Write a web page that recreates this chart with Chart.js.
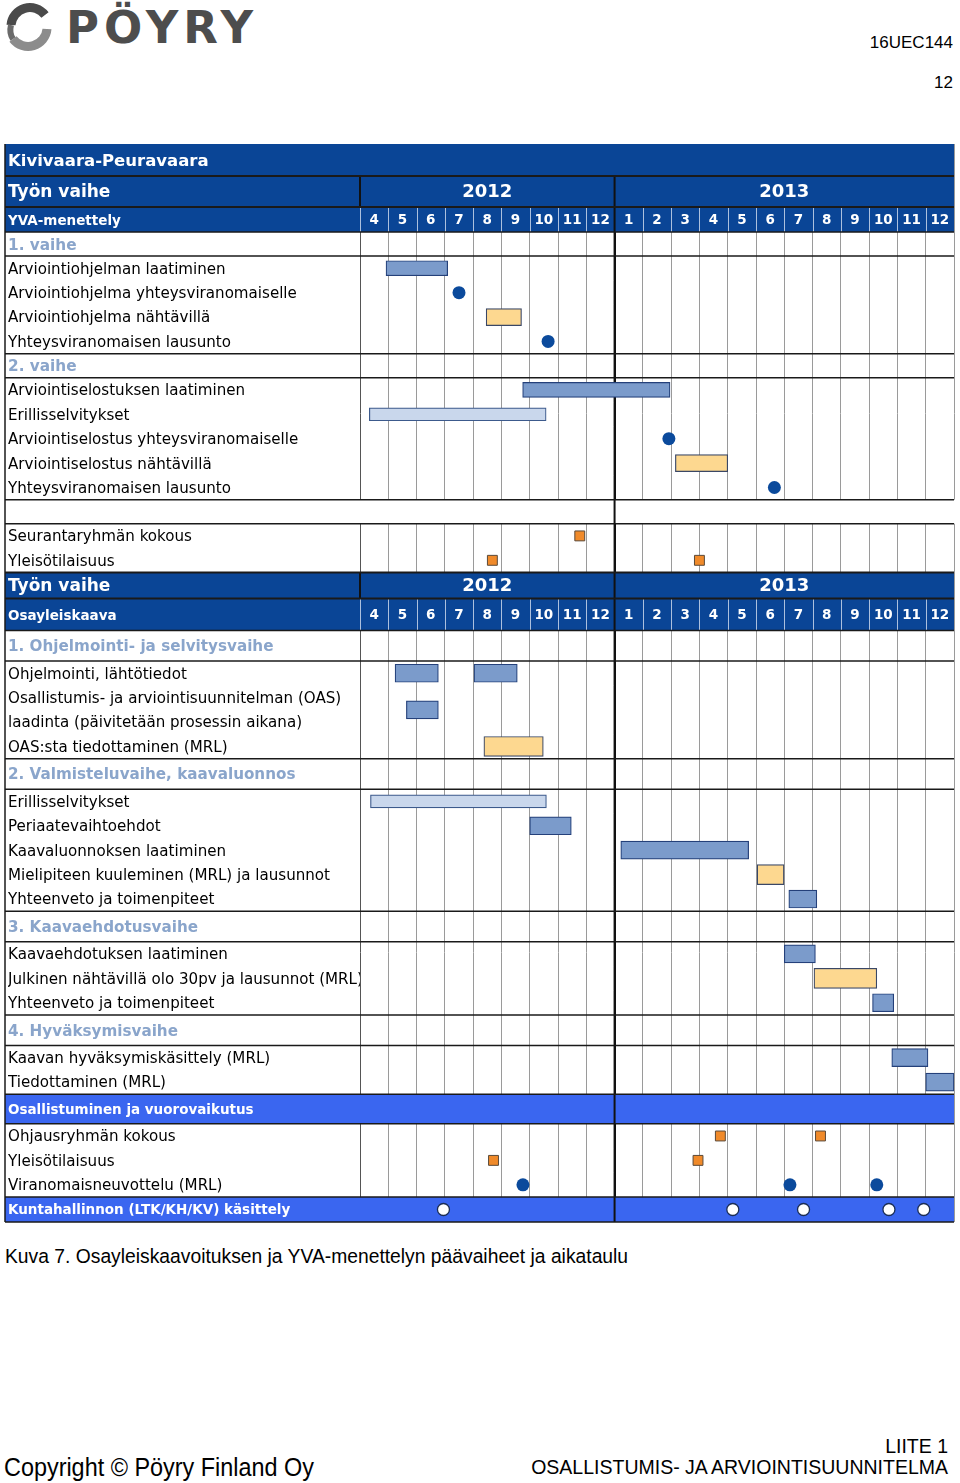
<!DOCTYPE html>
<html><head><meta charset="utf-8">
<script src="https://cdn.jsdelivr.net/npm/chart.js@4.4.1/dist/chart.umd.min.js"></script>
<style>
html,body{margin:0;padding:0;background:#fff}
body{width:960px;height:1483px;position:relative;overflow:hidden;font-family:"Liberation Sans",Arial,sans-serif;color:#000}
.t{position:absolute;white-space:nowrap}
#logoTxt{left:66px;top:2px;font-family:"DejaVu Sans",sans-serif;font-weight:bold;font-size:45px;line-height:52px;color:#4d4d4d;letter-spacing:5px}
#docid{right:7px;top:33px;font-size:17px;line-height:20px}
#pageno{right:7px;top:73px;font-size:17px;line-height:20px}
#caption{left:5px;top:1246px;font-size:19.3px;line-height:22px}
#copy{left:4px;top:1452px;font-size:26px;line-height:30px;transform:scaleX(0.9);transform-origin:left}
#liite{right:12px;top:1436px;font-size:19.5px;line-height:21px;text-align:right}
#wrap{position:absolute;left:0;top:144px;width:960px;height:1080px}
</style></head><body>
<svg class="t" style="left:4px;top:3px" width="50" height="48" viewBox="0 0 50 48">
  <path d="M41 12 A19 19 0 0 0 7 22" fill="none" stroke="#4a4a4a" stroke-width="9"/>
  <path d="M9 36 A19 19 0 0 0 43 26" fill="none" stroke="#8c8c8c" stroke-width="9"/>
  <path d="M7 22 Q5 30 9 36" fill="none" stroke="#6a6a6a" stroke-width="6"/>
</svg>
<div class="t" id="logoTxt">PÖYRY</div>
<div class="t" id="docid">16UEC144</div>
<div class="t" id="pageno">12</div>
<div id="wrap"><canvas id="c" width="960" height="1080"></canvas></div>
<div class="t" id="caption">Kuva 7. Osayleiskaavoituksen ja YVA-menettelyn päävaiheet ja aikataulu</div>
<div class="t" id="copy">Copyright © Pöyry Finland Oy</div>
<div class="t" id="liite">LIITE 1<br>OSALLISTUMIS- JA ARVIOINTISUUNNITELMA</div>
<script>
// ---------------- data ----------------
const monthLabels = ['4','5','6','7','8','9','10','11','12','1','2','3','4','5','6','7','8','9','10','11','12'];
const yearLabels = ['2012', '2013'];
const monthsPerYear = [9, 12];

const rowLabels = [
  'Kivivaara-Peuravaara',
  'Työn vaihe',
  'YVA-menettely',
  '1. vaihe',
  'Arviointiohjelman laatiminen',
  'Arviointiohjelma yhteysviranomaiselle',
  'Arviointiohjelma nähtävillä',
  'Yhteysviranomaisen lausunto',
  '2. vaihe',
  'Arviointiselostuksen laatiminen',
  'Erillisselvitykset',
  'Arviointiselostus yhteysviranomaiselle',
  'Arviointiselostus nähtävillä',
  'Yhteysviranomaisen lausunto',
  '',
  'Seurantaryhmän kokous',
  'Yleisötilaisuus',
  'Työn vaihe',
  'Osayleiskaava',
  '1. Ohjelmointi- ja selvitysvaihe',
  'Ohjelmointi, lähtötiedot',
  ['Osallistumis- ja arviointisuunnitelman (OAS)', 'laadinta (päivitetään prosessin aikana)'],
  'OAS:sta tiedottaminen (MRL)',
  '2. Valmisteluvaihe, kaavaluonnos',
  'Erillisselvitykset',
  'Periaatevaihtoehdot',
  'Kaavaluonnoksen laatiminen',
  'Mielipiteen kuuleminen (MRL) ja lausunnot',
  'Yhteenveto ja toimenpiteet',
  '3. Kaavaehdotusvaihe',
  'Kaavaehdotuksen laatiminen',
  'Julkinen nähtävillä olo 30pv ja lausunnot (MRL)',
  'Yhteenveto ja toimenpiteet',
  '4. Hyväksymisvaihe',
  'Kaavan hyväksymiskäsittely (MRL)',
  'Tiedottaminen (MRL)',
  'Osallistuminen ja vuorovaikutus',
  'Ohjausryhmän kokous',
  'Yleisötilaisuus',
  'Viranomaisneuvottelu (MRL)',
  'Kuntahallinnon (LTK/KH/KV) käsittely'
];
const rowKinds = [
  'title','year','month','phase','task','task','task','task','phase','task','task','task','task','task',
  'blank','task','task','year2','month2','phaseL','task','task2','task','phaseL','task','task','task','task','task',
  'phaseL','task','task','task','phaseL','task','task','band','task','task','task','bandS'
];

// months counted from the start of April 2012
const workRows  = [4, 9, 20, 20, 21, 25, 26, 28, 30, 32, 34, 35];
const workStart = [0.92, 5.75, 1.24, 4.03, 1.64, 6.0, 9.22, 15.16, 15.0, 18.12, 18.8, 20.0];
const workEnd   = [3.1, 10.96, 2.77, 5.56, 2.77, 7.47, 13.74, 16.15, 16.1, 18.87, 20.08, 21.0];

const studyRows  = [10, 24];
const studyStart = [0.33, 0.37];
const studyEnd   = [6.58, 6.59];

const displayRows  = [6, 12, 22, 27, 31];
const displayStart = [4.46, 11.15, 4.38, 14.04, 16.05];
const displayEnd   = [5.71, 13.0, 6.48, 14.99, 18.27];

const authorityRows = [5, 7, 11, 13, 39, 39, 39];
const authorityAt   = [3.5, 6.65, 10.92, 14.65, 5.76, 15.2, 18.27];

const meetingRows = [15, 16, 16, 37, 37, 38, 38];
const meetingAt   = [7.77, 4.68, 12.0, 12.74, 16.28, 4.72, 11.95];

const councilRows = [40, 40, 40, 40, 40];
const councilAt   = [2.95, 13.18, 15.68, 18.7, 19.93];

// ---------------- layout / style ----------------
const rowHeight = {title:32, year:31, month:25, phase:24, task:24.4, task2:48.8, blank:24,
                   year2:26, month2:32, phaseL:30.5, band:29.5, bandS:25};
const DARK = '#0a4596', BRIGHT = '#3a66f0', PHASE = '#8aa5cb';

const bounds = [0];
rowKinds.forEach(k => bounds.push(bounds[bounds.length - 1] + rowHeight[k]));
const total = bounds[bounds.length - 1];
const rowCenters = rowKinds.map((k, i) => (bounds[i] + bounds[i + 1]) / 2);
const yearEdges = [0];
monthsPerYear.forEach(n => yearEdges.push(yearEdges[yearEdges.length - 1] + n));
const nMonths = yearEdges[yearEdges.length - 1];
const innerEdges = yearEdges.slice(1, -1);

const isDarkKind = k => ['title','year','month','year2','month2'].includes(k);
const isBrightKind = k => k === 'band' || k === 'bandS';

function barsFrom(rows, s, e, filter) {
  const out = [];
  rows.forEach((r, i) => { if (filter(r)) out.push({x: [s[i], e[i]], y: rowCenters[r]}); });
  return out;
}
function ptsFrom(rows, at) { return rows.map((r, i) => ({x: at[i], y: rowCenters[r]})); }
const upper = r => r < 17, lower = r => r >= 17;

const barBase = {type: 'bar', indexAxis: 'y', grouped: false, borderSkipped: false, borderWidth: 1.2};
const datasets = [
  {type: 'scatter', data: ptsFrom(councilRows, councilAt), pointStyle: 'circle', pointRadius: 6,
   backgroundColor: '#ffffff', borderColor: '#1b2d55', borderWidth: 1.3},
  {type: 'scatter', data: ptsFrom(meetingRows, meetingAt), pointStyle: 'rect', pointRadius: 7,
   backgroundColor: '#f08a2a', borderColor: '#5a4a3a', borderWidth: 1},
  {type: 'scatter', data: ptsFrom(authorityRows, authorityAt), pointStyle: 'circle', pointRadius: 6.5,
   backgroundColor: '#0b4a9c', borderColor: '#0b4a9c', borderWidth: 0},
  Object.assign({}, barBase, {data: barsFrom(workRows, workStart, workEnd, upper), barThickness: 15,
   backgroundColor: '#7b9bcb', borderColor: '#24407a'}),
  Object.assign({}, barBase, {data: barsFrom(workRows, workStart, workEnd, lower), barThickness: 18,
   backgroundColor: '#7b9bcb', borderColor: '#24407a'}),
  Object.assign({}, barBase, {data: barsFrom(studyRows, studyStart, studyEnd, () => true), barThickness: 13,
   backgroundColor: '#c9d7ec', borderColor: '#3c5a8c'}),
  Object.assign({}, barBase, {data: barsFrom(displayRows, displayStart, displayEnd, upper), barThickness: 17,
   backgroundColor: '#fdd890', borderColor: '#3a4766'}),
  Object.assign({}, barBase, {data: barsFrom(displayRows, displayStart, displayEnd, lower), barThickness: 20,
   backgroundColor: '#fdd890', borderColor: '#3a4766'})
];

function tickFont(k) {
  const f = {family: '"DejaVu Sans", Verdana, sans-serif', lineHeight: 1.6};
  switch (k) {
    case 'title': return Object.assign(f, {size: 16.5, weight: 'bold'});
    case 'year': case 'year2': return Object.assign(f, {size: 17, weight: 'bold'});
    case 'month': case 'month2': return Object.assign(f, {size: 13.5, weight: 'bold'});
    case 'phase': return Object.assign(f, {size: 15.3, weight: 'bold'});
    case 'phaseL': return Object.assign(f, {size: 15.2, weight: 'bold'});
    case 'band': case 'bandS': return Object.assign(f, {size: 13.5, weight: 'bold'});
    default: return Object.assign(f, {size: 15.1, weight: 'normal'});
  }
}
function tickColor(k) {
  if (isDarkKind(k) || isBrightKind(k)) return '#ffffff';
  if (k === 'phase' || k === 'phaseL') return PHASE;
  return '#000000';
}
function gridValue(c) { return c && c.tick ? c.tick.value : -1; }

const tablePlugin = {
  id: 'ganttTable',
  beforeDatasetsDraw(chart) {
    const {ctx, chartArea: a, scales: {x, y}} = chart;
    const L = y.left - 3;
    const px = v => x.getPixelForValue(v);
    const py = v => y.getPixelForValue(v);
    ctx.save();
    const hline = (yy, w) => { ctx.strokeStyle = '#1a1a1a'; ctx.lineWidth = w; ctx.beginPath(); ctx.moveTo(L, yy); ctx.lineTo(a.right, yy); ctx.stroke(); };
    const vline = (xx, y0, y1, c, w) => { ctx.strokeStyle = c; ctx.lineWidth = w; ctx.beginPath(); ctx.moveTo(xx, y0); ctx.lineTo(xx, y1); ctx.stroke(); };
    rowKinds.forEach((k, i) => {
      const t = py(bounds[i]), b = py(bounds[i + 1]);
      if (isDarkKind(k) || isBrightKind(k)) {
        ctx.fillStyle = isDarkKind(k) ? DARK : BRIGHT;
        ctx.fillRect(L, t, a.right - L, b - t);
      } else if (k === 'blank') {
        ctx.fillStyle = '#ffffff';
        ctx.fillRect(a.left - 1, t, a.right - a.left + 2, b - t);
      }
      if (k === 'month' || k === 'month2') {
        for (let m = 0; m < nMonths; m++) {
          if (!innerEdges.includes(m)) vline(Math.round(px(m)) + 0.5, t, b, 'rgba(190,205,230,0.9)', 1);
        }
        ctx.fillStyle = '#ffffff';
        ctx.font = 'bold 13.5px "DejaVu Sans", Verdana, sans-serif';
        ctx.textAlign = 'center'; ctx.textBaseline = 'middle';
        monthLabels.forEach((lab, m) => ctx.fillText(lab, px(m + 0.5), (t + b) / 2 + 1));
      }
      if (k === 'year' || k === 'year2') {
        vline(px(0), t, b, '#111', 2);
        ctx.fillStyle = '#ffffff';
        ctx.font = 'bold 18px "DejaVu Sans", Verdana, sans-serif';
        ctx.textAlign = 'center'; ctx.textBaseline = 'middle';
        yearLabels.forEach((lab, j) => ctx.fillText(lab, px((yearEdges[j] + yearEdges[j + 1]) / 2), (t + b) / 2 + 1));
      }
      if (k !== 'title') {
        innerEdges.forEach(e => vline(px(e), t, b, '#111', 2));
      }
      if (k === 'phase' || k === 'phaseL' || k === 'blank' || isBrightKind(k)) { hline(t, 1.5); hline(b, 1.5); }
      if (k === 'year' || k === 'year2' || k === 'month' || k === 'month2') hline(t, 2);
    });
    vline(L, a.top, py(total), '#1a1a1a', 1.5);
    ctx.restore();
  }
};

new Chart(document.getElementById('c'), {
  type: 'bar',
  data: {datasets},
  options: {
    responsive: false,
    animation: false,
    devicePixelRatio: 1,
    layout: {autoPadding: false, padding: {left: 8, right: 6, top: 0, bottom: 2}},
    plugins: {legend: {display: false}, tooltip: {enabled: false}},
    scales: {
      x: {
        type: 'linear', position: 'bottom', min: 0, max: nMonths, offset: false,
        ticks: {display: false, stepSize: 1},
        border: {display: false},
        afterFit: s => { s.paddingLeft = 0; s.paddingRight = 0; },
        grid: {
          offset: false,
          drawTicks: false,
          color: c => { const v = gridValue(c); return innerEdges.includes(v) ? '#111111' : (v === 0 ? '#555555' : '#9a9a9a'); },
          lineWidth: c => innerEdges.includes(gridValue(c)) ? 2 : 1
        }
      },
      y: {
        type: 'linear', reverse: true, min: 0, max: total, offset: false, beginAtZero: false,
        afterFit: s => { s.width = 352; s.paddingTop = 0; s.paddingBottom = 0; },
        afterBuildTicks: s => { s.ticks = rowCenters.map(v => ({value: v})); },
        grid: {display: false},
        border: {display: false},
        ticks: {
          z: 1, autoSkip: false, crossAlign: 'far', padding: 0, labelOffset: 1.5,
          callback: (v, i) => rowLabels[i],
          color: c => tickColor(rowKinds[c.index]),
          font: c => tickFont(rowKinds[c.index])
        }
      }
    }
  },
  plugins: [tablePlugin]
});
</script>
</body></html>
